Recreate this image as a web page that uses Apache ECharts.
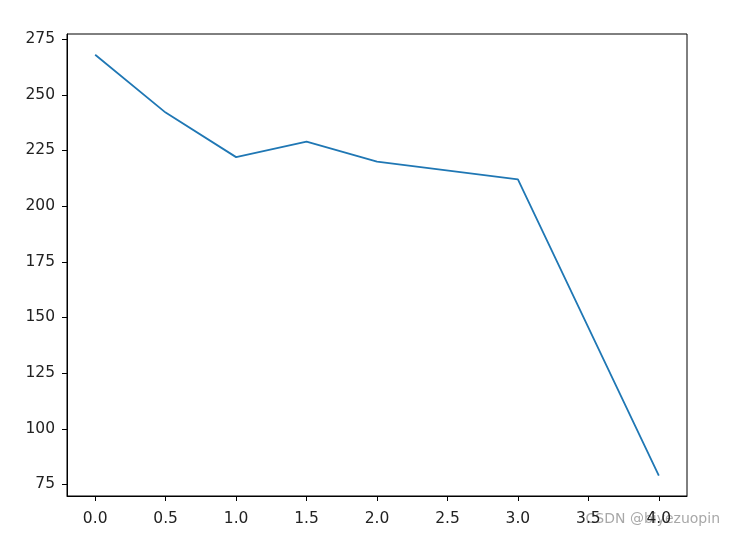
<!doctype html>
<html>
<head>
    <title>Line</title>
    <script src="https://cdnjs.cloudflare.com/ajax/libs/echarts/6.0.0/echarts.min.js"></script>
</head>
<style>
    html, body { margin: 0; padding: 0; background: #fff; }
    #main { width: 736px; height: 535px; }
</style>
<body>
<div id="main"></div>
<script>
  // values
  var xValues = [0, 0.5, 1.0, 1.5, 2.0, 3.0, 4.0];
  var yValues = [268, 242, 222, 229, 220, 212, 79];
  var xTicks = [0, 0.5, 1, 1.5, 2, 2.5, 3, 3.5, 4];
  var yTicks = [75, 100, 125, 150, 175, 200, 225, 250, 275];

  var myChart = echarts.init(document.getElementById('main'));
  var font = 'DejaVu Sans';

  var option = {
    animation: false,
    grid: {
      left: 67, right: 49, top: 34, bottom: 39,
      outerBoundsMode: 'none',
      containLabel: false,
      show: true, borderColor: '#000', borderWidth: 1
    },
    xAxis: {
      type: 'value',
      min: -0.2, max: 4.2,
      splitLine: { show: false },
      axisLine: { show: true, onZero: false, lineStyle: { color: '#000', width: 1 } },
      axisTick: { show: true, length: 5, lineStyle: { color: '#000' }, customValues: xTicks },
      axisLabel: {
        color: '#222', fontFamily: font, fontSize: 15.5, margin: 8,
        customValues: xTicks,
        formatter: function (v) { return v.toFixed(1); }
      }
    },
    yAxis: {
      type: 'value',
      min: 69.8, max: 277.3,
      splitLine: { show: false },
      axisLine: { show: true, onZero: false, lineStyle: { color: '#000', width: 1 } },
      axisTick: { show: true, length: 5, lineStyle: { color: '#000' }, customValues: yTicks },
      axisLabel: {
        color: '#222', fontFamily: font, fontSize: 15.5, margin: 12,
        customValues: yTicks
      }
    },
    graphic: [{
      type: 'text', right: 16, top: 505,
      style: { text: 'CSDN @biyezuopin', fill: '#999', font: '14px "DejaVu Sans"', opacity: 0.85 }
    }],
    series: [{
      type: 'line',
      data: xValues.map(function (x, i) { return [x, yValues[i]]; }),
      showSymbol: false,
      lineStyle: { color: '#1f77b4', width: 1.8 },
      itemStyle: { color: '#1f77b4' }
    }]
  };

  myChart.setOption(option);
</script>
</body>
</html>
